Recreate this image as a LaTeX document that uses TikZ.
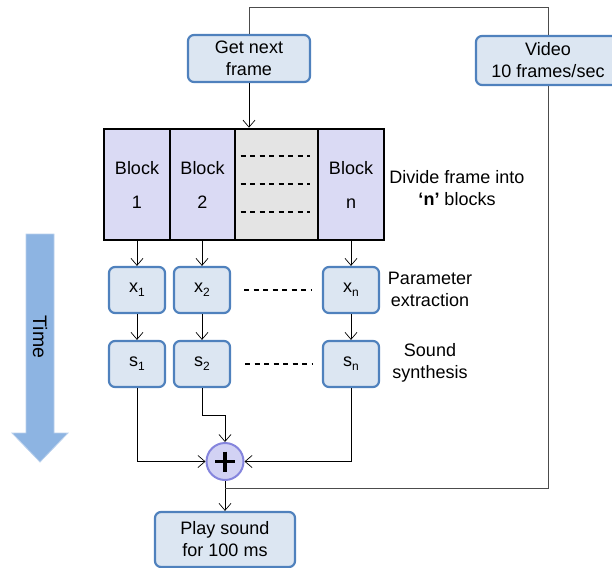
\documentclass[tikz,border=0pt]{standalone}
\usepackage{fontspec}
\setmainfont{Liberation Sans}
\usetikzlibrary{arrows.meta,calc}
\definecolor{boxfill}{HTML}{DCE6F2}
\definecolor{boxdraw}{HTML}{4F81BD}
\definecolor{blockfill}{HTML}{DADAF4}
\definecolor{grayfill}{HTML}{E4E4E4}
\definecolor{plusfill}{HTML}{D2D2F4}
\definecolor{plusdraw}{HTML}{8585DD}
\definecolor{timefill}{HTML}{8DB4E2}
\definecolor{timeedge}{HTML}{B9D0EC}
\newcommand{\lowsub}[1]{\raisebox{-0.45ex}{\fontsize{12}{12}\selectfont #1}}
\begin{document}
\begin{tikzpicture}[x=1pt,y=-1pt,
  every node/.style={font=\fontsize{18}{22}\selectfont, inner sep=0pt},
  rbox/.style={draw=boxdraw, fill=boxfill, line width=2.2pt, rounded corners=6pt, align=center},
  cell/.style={draw=black, line width=2.6pt, minimum height=111pt, align=center, fill=blockfill},
  conn/.style={draw=black, line width=0.7pt},
  arr/.style={conn, -{Straight Barb[length=7pt,width=12pt]}},
  feed/.style={draw=black!70, line width=1pt},
  dsh/.style={draw=black, line width=1.1pt, dash pattern=on 5pt off 4.5pt},
  lbl/.style={align=center}]
\useasboundingbox (0,0) rectangle (612,567);

% top boxes
\node[rbox, minimum width=122pt, minimum height=47pt] (gnf) at (249,58.5) {Get next\\frame};
\node[rbox, minimum width=144pt, minimum height=49pt] (vid) at (548,60.5) {Video\\10 frames/sec};
\coordinate (tl) at (249,8);
\coordinate (tr) at (548,8);
\draw[feed] (gnf.north) -- (tl) -- (tr) -- (vid.north);

% block row
\node[cell, minimum width=66pt] (b1) at (137,184.5) {Block\\[12pt]1};
\node[cell, minimum width=65pt] (b2) at (202.5,184.5) {Block\\[12pt]2};
\node[cell, minimum width=83pt, fill=grayfill] (bg) at (276.5,184.5) {};
\node[cell, minimum width=66pt] (bn) at (351,184.5) {Block\\[12pt]n};
\draw[dsh] ($(bg.west)+(7,-28.5)$) -- ($(bg.east)+(-9,-28.5)$);
\draw[dsh] ($(bg.west)+(7,-0.5)$) -- ($(bg.east)+(-9,-0.5)$);
\draw[dsh] ($(bg.west)+(7,27.5)$) -- ($(bg.east)+(-9,27.5)$);
\node[lbl] (divide) at (457,188) {Divide frame into\\\textbf{‘n’} blocks};

\draw[arr] (gnf.south) -- (gnf.south |- b1.north);

% parameter boxes
\node[rbox, minimum width=56pt, minimum height=46pt] (x1) at (137,290) {x\lowsub{1}};
\node[rbox, minimum width=56pt, minimum height=46pt] (x2) at (202,290) {x\lowsub{2}};
\node[rbox, minimum width=56pt, minimum height=46pt] (xn) at (351,290) {x\lowsub{n}};
\node[rbox, minimum width=56pt, minimum height=46pt] (s1) at (137,364) {s\lowsub{1}};
\node[rbox, minimum width=56pt, minimum height=46pt] (s2) at (202,364) {s\lowsub{2}};
\node[rbox, minimum width=56pt, minimum height=46pt] (sn) at (351,364) {s\lowsub{n}};
\draw[dsh] (244,290) -- (311,290);
\draw[dsh] (245,364) -- (312,364);
\node[lbl] (param) at (430,289) {Parameter\\extraction};
\node[lbl] (sound) at (430,363) {Sound\\synthesis};

\draw[arr] (b1.south -| x1) -- (x1.north);
\draw[arr] (b2.south -| x2) -- (x2.north);
\draw[arr] (bn.south -| xn) -- (xn.north);
\draw[arr] (x1.south) -- (s1.north);
\draw[arr] (x2.south) -- (s2.north);
\draw[arr] (xn.south) -- (sn.north);

% summation
\node[circle, draw=plusdraw, fill=plusfill, line width=2pt, minimum size=37pt] (plus) at (225,461.5) {};
\draw[line width=3.2pt] ($(plus.center)+(-10,0)$) -- ($(plus.center)+(10,0)$);
\draw[line width=3.2pt] ($(plus.center)+(0,-10)$) -- ($(plus.center)+(0,10)$);

\coordinate (s2k) at (202,415);
\draw[arr] (s1.south) |- (plus.west);
\draw[arr] (sn.south) |- (plus.east);
\draw[arr] (s2.south) -- (s2k) -| (plus.north);

% play
\node[rbox, minimum width=140pt, minimum height=55pt] (play) at (225,539.5) {Play sound\\for 100 ms};
\draw[arr] (plus.south) -- (play.north);
\coordinate (join) at (225,488);
\draw[feed] (vid.south) |- (join);

% time arrow
\draw[draw=timeedge, fill=timefill, line width=0.8pt]
  (26,234) -- (54,234) -- (54,433) -- (68,433) -- (40,462) -- (12,433) -- (26,433) -- cycle;
\node[rotate=-90, font=\fontsize{19.5}{22}\selectfont] (time) at (40,337) {Time};
\end{tikzpicture}
\end{document}
